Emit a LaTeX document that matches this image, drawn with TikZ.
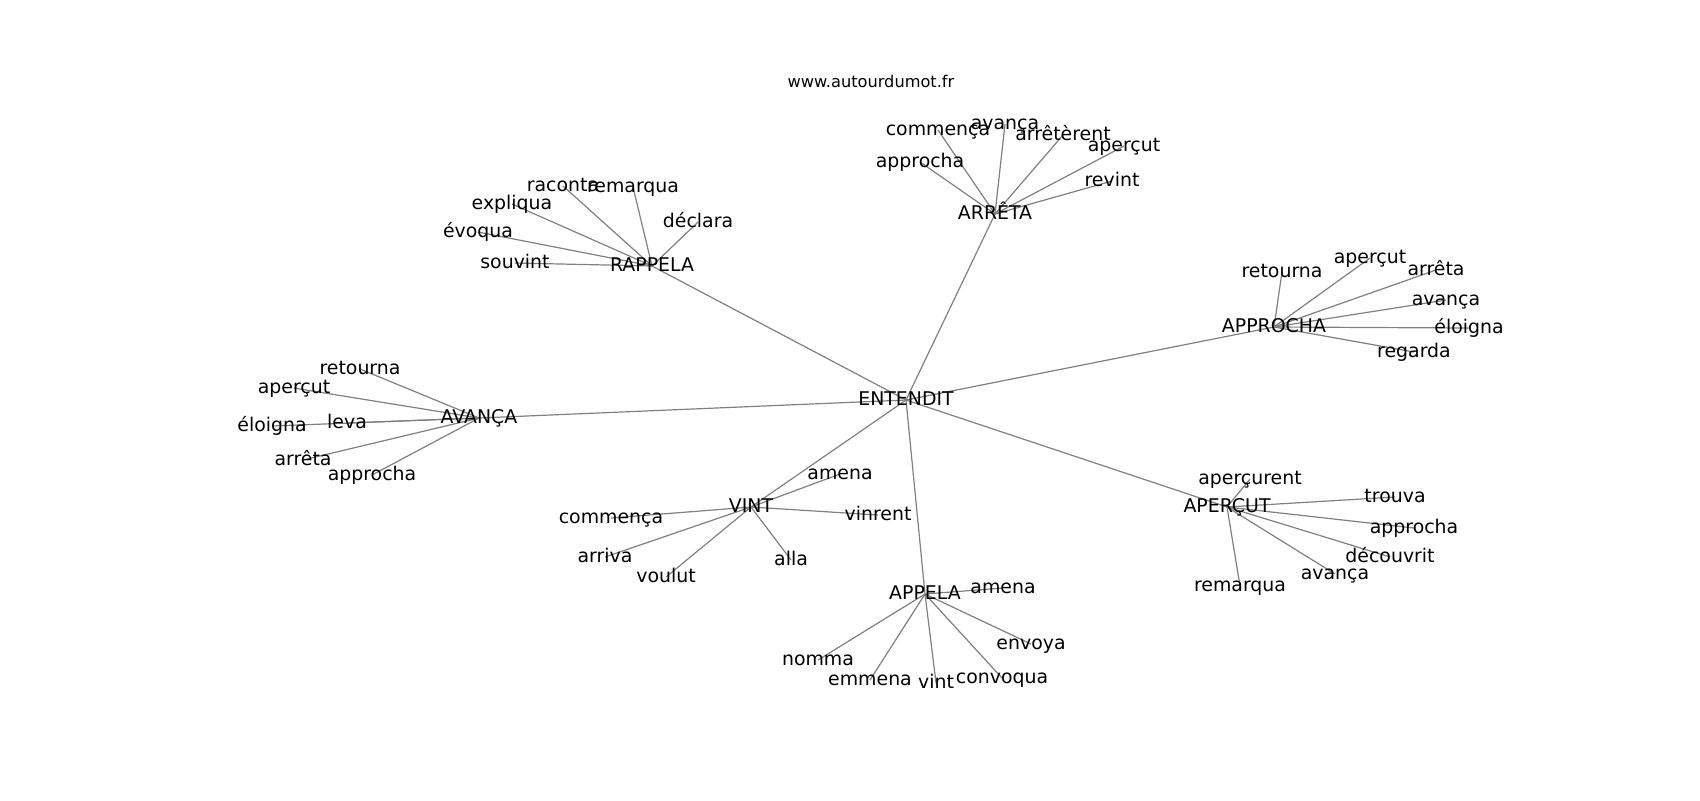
\documentclass[tikz,border=0pt]{standalone}
\usepackage{fontspec}
\setmainfont{DejaVu Sans}
\usepackage{tikz}
\usetikzlibrary{backgrounds}

\begin{document}
\begin{tikzpicture}[x=0.5pt, y=-0.5pt,
    word/.style={inner sep=0pt, anchor=center, text height=7.18pt, text depth=1.97pt,
                 font=\fontsize{9.45pt}{11pt}\selectfont},
    link/.style={draw=black!50, line width=0.6pt}]

    \node [inner sep=0pt, text height=6.16pt, text depth=1.68pt,
           font=\fontsize{8.1pt}{10pt}\selectfont] (title) at (871,83) {www.autourdumot.fr};

    \node [word] (entendit) at (906,400) {ENTENDIT};
    \node [word] (arreta)   at (995,214) {ARRÊTA};
    \node [word] (rappela)  at (652,266) {RAPPELA};
    \node [word] (avanca)   at (479,418) {AVANÇA};
    \node [word] (approcha) at (1274,327) {APPROCHA};
    \node [word] (apercut)  at (1227,507) {APERÇUT};
    \node [word] (vint)     at (751,507) {VINT};
    \node [word] (appela)   at (925,594) {APPELA};

    \node [word] (ar-commenca)   at (938,130)  {commença};
    \node [word] (ar-avanca)     at (1005,124) {avança};
    \node [word] (ar-arreterent) at (1063,135) {arrêtèrent};
    \node [word] (ar-apercut)    at (1124,146) {aperçut};
    \node [word] (ar-approcha)   at (920,162)  {approcha};
    \node [word] (ar-revint)     at (1112,181) {revint};

    \node [word] (ra-raconta)  at (563,186) {raconta};
    \node [word] (ra-remarqua) at (633,187) {remarqua};
    \node [word] (ra-expliqua) at (512,204) {expliqua};
    \node [word] (ra-declara)  at (698,222) {déclara};
    \node [word] (ra-evoqua)   at (478,232) {évoqua};
    \node [word] (ra-souvint)  at (515,263) {souvint};

    \node [word] (av-retourna) at (360,369) {retourna};
    \node [word] (av-apercut)  at (294,388) {aperçut};
    \node [word] (av-eloigna)  at (272,426) {éloigna};
    \node [word] (av-leva)     at (347,423) {leva};
    \node [word] (av-arreta)   at (303,460) {arrêta};
    \node [word] (av-approcha) at (372,475) {approcha};

    \node [word] (ap-retourna) at (1282,272) {retourna};
    \node [word] (ap-apercut)  at (1370,258) {aperçut};
    \node [word] (ap-arreta)   at (1436,270) {arrêta};
    \node [word] (ap-avanca)   at (1446,300) {avança};
    \node [word] (ap-eloigna)  at (1469,328) {éloigna};
    \node [word] (ap-regarda)  at (1414,352) {regarda};

    \node [word] (ac-apercurent) at (1250,479) {aperçurent};
    \node [word] (ac-trouva)     at (1395,497) {trouva};
    \node [word] (ac-approcha)   at (1414,528) {approcha};
    \node [word] (ac-decouvrit)  at (1390,557) {découvrit};
    \node [word] (ac-avanca)     at (1335,574) {avança};
    \node [word] (ac-remarqua)   at (1240,586) {remarqua};

    \node [word] (vi-amena)    at (840,474) {amena};
    \node [word] (vi-vinrent)  at (878,515) {vinrent};
    \node [word] (vi-commenca) at (611,518) {commença};
    \node [word] (vi-arriva)   at (605,557) {arriva};
    \node [word] (vi-voulut)   at (666,577) {voulut};
    \node [word] (vi-alla)     at (791,560) {alla};

    \node [word] (pe-amena)    at (1003,588) {amena};
    \node [word] (pe-nomma)    at (818,660)  {nomma};
    \node [word] (pe-emmena)   at (870,680)  {emmena};
    \node [word] (pe-vint)     at (936,683)  {vint};
    \node [word] (pe-convoqua) at (1002,678) {convoqua};
    \node [word] (pe-envoya)   at (1031,644) {envoya};

    \begin{scope}[on background layer]
        \fill [white] (0,0) rectangle (1700,800);
        \foreach \hub in {arreta, rappela, avanca, approcha, apercut, vint, appela}
            \draw [link] (entendit.center) -- (\hub.center);
        \foreach \leaf in {commenca, avanca, arreterent, apercut, approcha, revint}
            \draw [link] (arreta.center) -- (ar-\leaf.center);
        \foreach \leaf in {raconta, remarqua, expliqua, declara, evoqua, souvint}
            \draw [link] (rappela.center) -- (ra-\leaf.center);
        \foreach \leaf in {retourna, apercut, eloigna, leva, arreta, approcha}
            \draw [link] (avanca.center) -- (av-\leaf.center);
        \foreach \leaf in {retourna, apercut, arreta, avanca, eloigna, regarda}
            \draw [link] (approcha.center) -- (ap-\leaf.center);
        \foreach \leaf in {apercurent, trouva, approcha, decouvrit, avanca, remarqua}
            \draw [link] (apercut.center) -- (ac-\leaf.center);
        \foreach \leaf in {amena, vinrent, commenca, arriva, voulut, alla}
            \draw [link] (vint.center) -- (vi-\leaf.center);
        \foreach \leaf in {amena, nomma, emmena, vint, convoqua, envoya}
            \draw [link] (appela.center) -- (pe-\leaf.center);
    \end{scope}

    \useasboundingbox (0,0) rectangle (1700,800);
\end{tikzpicture}
\end{document}
